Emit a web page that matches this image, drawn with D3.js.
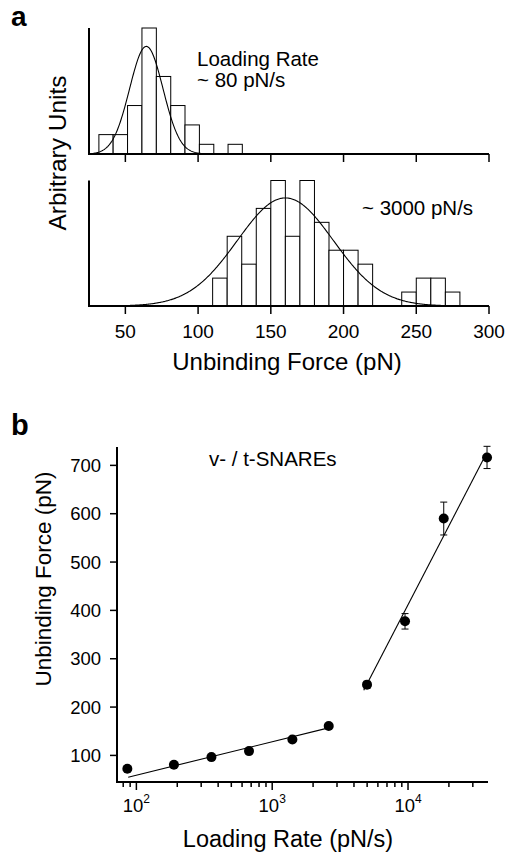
<!DOCTYPE html>
<meta charset="utf-8">
<style>
body { margin: 0; background: #fff; }
svg { display: block; font-family: "Liberation Sans", Arial, sans-serif; }
.axis-line { stroke: #000; stroke-width: 2; fill: none; }
.tick { stroke: #000; stroke-width: 1.5; }
.bar { fill: #fff; stroke: #000; stroke-width: 1; }
.fit { fill: none; stroke: #000; stroke-width: 1.1; }
</style>
<svg width="509" height="855"></svg>
<script src="https://cdnjs.cloudflare.com/ajax/libs/d3/7.8.5/d3.min.js"></script>
<script>

// ---- panel a: force histograms ----
var forceTicks = [50, 100, 150, 200, 250, 300];

// ~80 pN/s
var lowEdges = [31.8, 41.6, 51.5, 61.4, 71.3, 81.2, 91.0, 100.9, 110.8, 120.6, 130.4];
var lowCounts = [2, 2, 5, 13, 8, 5, 3, 1, 0, 1];
var lowFit = {mean: 64.4, sd: 11.5, peak: 11.1, from: 28, to: 130};

// ~3000 pN/s
var highEdges = [110, 120, 130, 140, 150, 160, 170, 180, 190, 200, 210, 220, 230, 240, 250, 260, 270, 280];
var highCounts = [2, 5, 3, 7, 9, 5, 9, 6, 4, 4, 3, 0, 0, 1, 2, 2, 1];
var highFit = {mean: 160, sd: 33, peak: 7.75, from: 45, to: 285};

// ---- panel b: force vs loading rate ----
var rateTicks = [100, 1000, 10000];
var rateExp = ["2", "3", "4"];
var forceTicksB = [100, 200, 300, 400, 500, 600, 700];
var loadingRate = [85.8, 189, 357, 675, 1408, 2607, 4990, 9505, 18320, 38160];
var unbindForce = [72.5, 80.7, 96.5, 108.9, 133, 160.7, 246.4, 377.4, 590, 716.4];
var forceErr = [2, 2, 3, 3, 3, 3, 7, 16, 34, 23];
// fitted lines, two regimes (end points)
var fitSlow = [[87, 55], [2600, 157]];
var fitFast = [[4720, 235], [35650, 711]];

var svg = d3.select("svg");

var x = d3.scaleLinear().domain([25, 300]).range([89, 489]);
var yLow = d3.scaleLinear().domain([0, 13]).range([154, 28]);
var yHigh = d3.scaleLinear().domain([0, 9]).range([306, 180.5]);

function drawHist(edges, counts, fit, y) {
  var g = svg.append("g");
  counts.forEach(function(c, i) {
    if (c === 0) return;
    g.append("rect")
      .attr("class", "bar")
      .attr("x", x(edges[i]))
      .attr("y", y(c))
      .attr("width", x(edges[i + 1]) - x(edges[i]))
      .attr("height", y(0) - y(c));
  });

  // gaussian fit from its parameters
  var pts = d3.range(fit.from, fit.to + 0.5, 0.5).map(function(f) {
    return [f, fit.peak * Math.exp(-0.5 * Math.pow((f - fit.mean) / fit.sd, 2))];
  });
  g.append("path")
    .attr("class", "fit")
    .attr("d", d3.line().x(d => x(d[0])).y(d => y(d[1]))(pts));

  // axes
  g.append("line").attr("class", "axis-line")
    .attr("x1", x.range()[0]).attr("x2", x.range()[1])
    .attr("y1", y(0)).attr("y2", y(0));
  g.append("line").attr("class", "axis-line")
    .attr("x1", x.range()[0]).attr("x2", x.range()[0])
    .attr("y1", y(0) + 1).attr("y2", y.range()[1]);
  g.selectAll(".tick").data(forceTicks).enter().append("line")
    .attr("class", "tick")
    .attr("x1", d => x(d)).attr("x2", d => x(d))
    .attr("y1", y(0)).attr("y2", y(0) + 8);
}

drawHist(lowEdges, lowCounts, lowFit, yLow);
drawHist(highEdges, highCounts, highFit, yHigh);

svg.selectAll(".xlab").data(forceTicks).enter().append("text")
  .attr("x", d => x(d)).attr("y", 338)
  .attr("text-anchor", "middle")
  .style("font-size", "19px")
  .text(d => d);

svg.append("text").attr("x", 287).attr("y", 370)
  .attr("text-anchor", "middle").style("font-size", "24px")
  .text("Unbinding Force (pN)");

svg.append("text").attr("transform", "translate(66,153) rotate(-90)")
  .attr("text-anchor", "middle").style("font-size", "24.5px")
  .text("Arbitrary Units");

svg.append("text").attr("x", 197).attr("y", 66).style("font-size", "20.5px").text("Loading Rate");
svg.append("text").attr("x", 197).attr("y", 87).style("font-size", "20.5px").text("~ 80 pN/s");
svg.append("text").attr("x", 362).attr("y", 215).style("font-size", "20.5px").text("~ 3000 pN/s");

svg.append("text").attr("x", 11).attr("y", 26).style("font-size", "28px").style("font-weight", "bold").text("a");
svg.append("text").attr("x", 11).attr("y", 435).style("font-size", "29px").style("font-weight", "bold").text("b");

// ---- panel b ----
var xb = d3.scaleLog().domain([72, 38800]).range([117, 488]);
var yb = d3.scaleLinear().domain([45, 738]).range([782, 447]);

var gb = svg.append("g");

var minor = [];
[10, 100, 1000, 10000].forEach(function(p) {
  for (var k = 2; k <= 9; k++) {
    var v = k * p;
    if (v >= xb.domain()[0] && v <= xb.domain()[1]) minor.push(v);
  }
});
gb.selectAll(".minor").data(minor).enter().append("line")
  .attr("class", "tick")
  .attr("x1", d => xb(d)).attr("x2", d => xb(d))
  .attr("y1", yb.range()[0]).attr("y2", yb.range()[0] + 5);
gb.selectAll(".major").data(rateTicks).enter().append("line")
  .attr("class", "tick")
  .attr("x1", d => xb(d)).attr("x2", d => xb(d))
  .attr("y1", yb.range()[0]).attr("y2", yb.range()[0] + 8);

var xl = gb.selectAll(".xtl").data(rateTicks).enter().append("text")
  .attr("x", d => xb(d)).attr("y", 812)
  .attr("text-anchor", "middle")
  .style("font-size", "18.5px");
xl.append("tspan").text("10");
xl.append("tspan").attr("dy", -9).style("font-size", "12px").text((d, i) => rateExp[i]);

gb.selectAll(".ytick").data(forceTicksB).enter().append("line")
  .attr("class", "tick")
  .attr("x1", xb.range()[0] - 7).attr("x2", xb.range()[0])
  .attr("y1", d => yb(d)).attr("y2", d => yb(d));
gb.selectAll(".ytl").data(forceTicksB).enter().append("text")
  .attr("x", xb.range()[0] - 16).attr("y", d => yb(d) + 6.5)
  .attr("text-anchor", "end")
  .style("font-size", "18.5px")
  .text(d => d);

gb.append("line").attr("class", "axis-line")
  .attr("x1", xb.range()[0] - 1).attr("x2", xb.range()[1])
  .attr("y1", yb.range()[0]).attr("y2", yb.range()[0]);
gb.append("line").attr("class", "axis-line")
  .attr("x1", xb.range()[0]).attr("x2", xb.range()[0])
  .attr("y1", yb.range()[0]).attr("y2", yb.range()[1]);

var line = d3.line().x(d => xb(d[0])).y(d => yb(d[1]));
gb.append("path").attr("class", "fit").attr("d", line(fitSlow));
gb.append("path").attr("class", "fit").attr("d", line(fitFast));

// error bars
loadingRate.forEach(function(r, i) {
  var cx = xb(r), e = forceErr[i];
  var top = yb(unbindForce[i] + e), bot = yb(unbindForce[i] - e);
  gb.append("line").attr("class", "tick").style("stroke-width", 1)
    .attr("x1", cx).attr("x2", cx).attr("y1", top).attr("y2", bot);
  [top, bot].forEach(function(yy) {
    gb.append("line").attr("class", "tick").style("stroke-width", 1)
      .attr("x1", cx - 3.5).attr("x2", cx + 3.5).attr("y1", yy).attr("y2", yy);
  });
});

gb.selectAll(".dot").data(loadingRate).enter().append("circle")
  .attr("cx", d => xb(d))
  .attr("cy", (d, i) => yb(unbindForce[i]))
  .attr("r", 5)
  .attr("fill", "#000");

svg.append("text").attr("x", 209).attr("y", 466).style("font-size", "20.5px").text("v- / t-SNAREs");

svg.append("text").attr("x", 288).attr("y", 847)
  .attr("text-anchor", "middle").style("font-size", "23.5px")
  .text("Loading Rate (pN/s)");

svg.append("text").attr("transform", "translate(51,579) rotate(-90)")
  .attr("text-anchor", "middle").style("font-size", "22.5px")
  .text("Unbinding Force (pN)");

</script>
